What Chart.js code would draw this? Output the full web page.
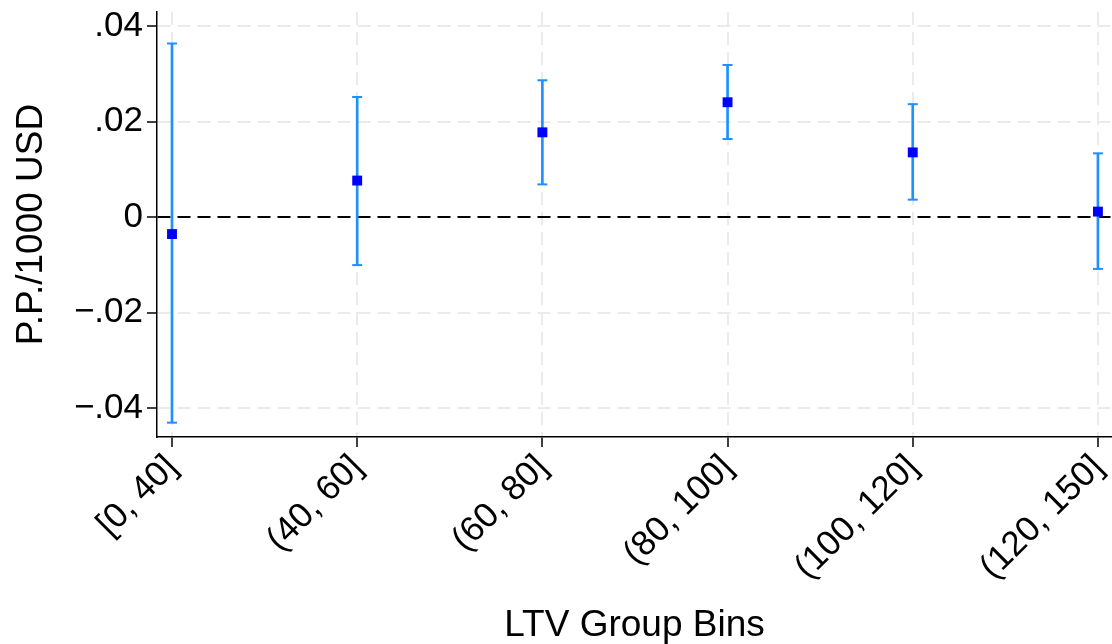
<!DOCTYPE html>
<html>
<head>
<meta charset="utf-8">
<script src="https://cdn.jsdelivr.net/npm/chart.js@4"></script>
<style>
  html, body { margin: 0; padding: 0; background: #fff; overflow: hidden; }
  #wrap { width: 1112px; height: 644px; }
</style>
</head>
<body>
<div id="wrap"><canvas id="ltvChart"></canvas></div>
<script>
// LTVビンのラベル
const binLabels = ["[0, 40]", "(40, 60]", "(60, 80]", "(80, 100]", "(100, 120]", "(120, 150]"];
// 推定値と95%信頼区間
const estimates = [-0.0035, 0.0077, 0.0178, 0.0241, 0.0136, 0.0012];
const ciLow = [-0.0430, -0.0100, 0.0069, 0.0164, 0.0037, -0.0108];
const ciHigh = [0.0364, 0.0252, 0.0287, 0.0319, 0.0237, 0.0134];
// y軸の目盛り
const yTicks = [-0.04, -0.02, 0, 0.02, 0.04];
const yTickLabels = ["\u2212.04", "\u2212.02", "0", ".02", ".04"];

const FONT = "'Liberation Sans', Arial, Helvetica, sans-serif";
const ciColor = "#1E90FF";
const pointColor = "#0000FF";

const ciBars = binLabels.map((_, i) => ({ x: i, y: [ciLow[i], ciHigh[i]] }));
const ciCaps = [];
binLabels.forEach((_, i) => {
  ciCaps.push({ x: i, y: ciLow[i] });
  ciCaps.push({ x: i, y: ciHigh[i] });
});
const estPoints = binLabels.map((_, i) => ({ x: i, y: estimates[i] }));

function isZero(ctx) {
  return ctx.tick && Math.abs(ctx.tick.value) < 1e-9;
}

var ltvChartConfig = {
  type: "scatter",
  data: {
    datasets: [
      {
        type: "bar",
        label: "CI",
        data: ciBars,
        backgroundColor: ciColor,
        borderWidth: 0,
        barThickness: 2,
        order: 2,
      },
      {
        label: "caps",
        data: ciCaps,
        pointStyle: "line",
        pointRadius: 5,
        borderColor: ciColor,
        borderWidth: 2,
        order: 1,
      },
      {
        label: "estimate",
        data: estPoints,
        pointStyle: "rect",
        pointRadius: 7,
        backgroundColor: pointColor,
        borderColor: pointColor,
        borderWidth: 0,
        order: 0,
      },
    ],
  },
  options: {
    animation: false,
    responsive: true,
    maintainAspectRatio: false,
    layout: {
      autoPadding: false,
      padding: { top: 12, right: 0, left: 0, bottom: 0 },
    },
    plugins: {
      legend: { display: false },
      tooltip: { enabled: false },
    },
    scales: {
      x: {
        type: "linear",
        offset: false,
        min: -0.081,
        max: 5.076,
        afterFit: function (scale) {
          scale.height = 207;
          scale.paddingLeft = 0;
          scale.paddingRight = 0;
        },
        afterBuildTicks: function (scale) {
          scale.ticks = binLabels.map((_, i) => ({ value: i }));
        },
        ticks: {
          autoSkip: false,
          minRotation: 45,
          maxRotation: 45,
          padding: 0,
          color: "#000",
          font: { family: FONT, size: 35 },
          callback: function (value) {
            return binLabels[value];
          },
        },
        grid: {
          offset: false,
          color: "#ebebeb",
          lineWidth: 2,
          tickColor: "#000",
          tickBorderDash: [],
          tickLength: 10,
          tickWidth: 1.5,
        },
        border: { color: "#000", width: 1.5, dash: [13, 7] },
        title: {
          display: true,
          text: "LTV Group Bins",
          color: "#000",
          font: { family: FONT, size: 37, lineHeight: 1 },
          padding: { top: 0, bottom: 0 },
        },
      },
      y: {
        type: "linear",
        min: -0.046,
        max: 0.043,
        afterFit: function (scale) {
          scale.width = 157;
          scale.paddingTop = 0;
          scale.paddingBottom = 0;
        },
        afterBuildTicks: function (scale) {
          scale.ticks = yTicks.map((v) => ({ value: v }));
        },
        ticks: {
          padding: 4,
          color: "#000",
          font: { family: FONT, size: 35 },
          callback: function (value) {
            const idx = yTicks.findIndex((t) => Math.abs(t - value) < 1e-9);
            return idx >= 0 ? yTickLabels[idx] : "";
          },
        },
        grid: {
          color: function (ctx) {
            return isZero(ctx) ? "#000" : "#ebebeb";
          },
          lineWidth: 2,
          tickColor: "#000",
          tickBorderDash: [],
          tickLength: 10,
          tickWidth: 1.5,
        },
        border: { color: "#000", width: 1.5, dash: [13, 7] },
        title: {
          display: true,
          text: "P.P./1000 USD",
          color: "#000",
          font: { family: FONT, size: 37 },
          padding: { top: 10, bottom: 0 },
        },
      },
    },
  },
};

// チャートを生成
const canvas = document.getElementById("ltvChart");
const ltvChart = new Chart(canvas, ltvChartConfig);
</script>
</body>
</html>
